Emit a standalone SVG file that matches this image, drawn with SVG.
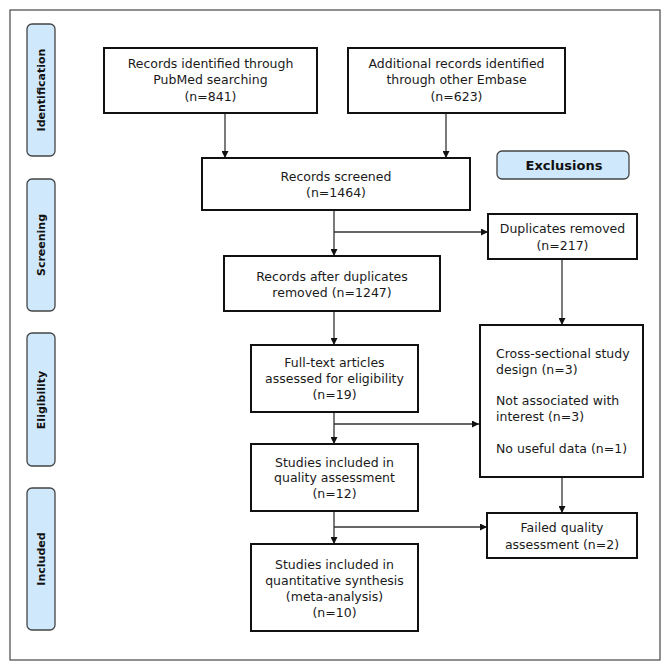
<svg xmlns="http://www.w3.org/2000/svg" width="671" height="671" viewBox="0 0 671 671">
<style>
.box{fill:#fff;stroke:#111;stroke-width:2}
.lbl{fill:#cfe8fb;stroke:#444;stroke-width:1.3}
.t{font-family:"DejaVu Sans",Verdana,sans-serif;font-size:12.5px;fill:#1a1a1a}
.s{font-size:11px}
.c{text-anchor:middle}
.b{font-weight:bold;fill:#111}
.con{stroke:#333;stroke-width:1.3;fill:none;marker-end:url(#ah)}
</style>
<defs>
<marker id="ah" viewBox="0 0 10 10" refX="10" refY="5" markerWidth="7" markerHeight="7" markerUnits="userSpaceOnUse" orient="auto">
<path d="M0,0L10,5L0,10z" fill="#111"/>
</marker>
</defs>
<rect width="671" height="671" fill="#fff"/>
<rect x="10" y="10" width="650" height="650" fill="none" stroke="#555" stroke-width="1.3"/>
<g id="stage-identification"><rect class="lbl" x="27" y="24" width="28" height="132" rx="5"/><text class="t s b c" transform="translate(45,90) rotate(-90)">Identification</text></g>
<g id="stage-screening"><rect class="lbl" x="27" y="179" width="28" height="132" rx="5"/><text class="t s b c" transform="translate(45,245) rotate(-90)">Screening</text></g>
<g id="stage-eligibility"><rect class="lbl" x="27" y="333" width="28" height="133" rx="5"/><text class="t s b c" transform="translate(45,400) rotate(-90)">Eligibility</text></g>
<g id="stage-included"><rect class="lbl" x="27" y="488" width="28" height="142" rx="5"/><text class="t s b c" transform="translate(45,559) rotate(-90)">Included</text></g>
<g id="exclusions-label"><rect class="lbl" x="497" y="151" width="132" height="28" rx="5"/><text class="t b c" x="564" y="170" style="font-size:13px">Exclusions</text></g>
<g id="connectors">
<line class="con" x1="225" y1="113" x2="225" y2="158"/>
<line class="con" x1="446" y1="113" x2="446" y2="158"/>
<line class="con" x1="334" y1="210" x2="334" y2="256"/>
<line class="con" x1="334" y1="232" x2="488" y2="232"/>
<line class="con" x1="562" y1="259" x2="562" y2="325"/>
<line class="con" x1="334" y1="311" x2="334" y2="345"/>
<line class="con" x1="334" y1="412" x2="334" y2="444"/>
<line class="con" x1="334" y1="424" x2="479" y2="424"/>
<line class="con" x1="334" y1="511" x2="334" y2="544"/>
<line class="con" x1="334" y1="527" x2="487" y2="527"/>
<line class="con" x1="562" y1="477" x2="562" y2="513"/>
</g>
<g id="pubmed"><rect class="box" x="104" y="48" width="213" height="65"/><text class="t c" x="210.5" y="68">Records identified through</text><text class="t c" x="210.5" y="84">PubMed searching</text><text class="t c" x="210.5" y="101">(n=841)</text></g>
<g id="embase"><rect class="box" x="348" y="48" width="217" height="65"/><text class="t c" x="456.5" y="68">Additional records identified</text><text class="t c" x="456.5" y="84">through other Embase</text><text class="t c" x="456.5" y="101">(n=623)</text></g>
<g id="screened"><rect class="box" x="202" y="158" width="268" height="52"/><text class="t c" x="336" y="181">Records screened</text><text class="t c" x="336" y="197">(n=1464)</text></g>
<g id="after-duplicates"><rect class="box" x="224" y="256" width="216" height="55"/><text class="t c" x="332" y="281">Records after duplicates</text><text class="t c" x="332" y="297">removed (n=1247)</text></g>
<g id="duplicates"><rect class="box" x="488" y="214" width="149" height="45"/><text class="t c" x="562.5" y="233">Duplicates removed</text><text class="t c" x="562.5" y="250">(n=217)</text></g>
<g id="fulltext"><rect class="box" x="251" y="345" width="167" height="67"/><text class="t c" x="334.5" y="367">Full-text articles</text><text class="t c" x="334.5" y="383">assessed for eligibility</text><text class="t c" x="334.5" y="399">(n=19)</text></g>
<g id="excluded-fulltext"><rect class="box" x="480" y="325" width="163" height="152"/><text class="t" x="496" y="358">Cross-sectional study</text><text class="t" x="496" y="374">design (n=3)</text><text class="t" x="496" y="405">Not associated with</text><text class="t" x="496" y="421">interest (n=3)</text><text class="t" x="496" y="453">No useful data (n=1)</text></g>
<g id="quality"><rect class="box" x="251" y="444" width="167" height="67"/><text class="t c" x="334.5" y="467">Studies included in</text><text class="t c" x="334.5" y="482">quality assessment</text><text class="t c" x="334.5" y="498">(n=12)</text></g>
<g id="failed"><rect class="box" x="487" y="513" width="150" height="45"/><text class="t c" x="562" y="532">Failed quality</text><text class="t c" x="562" y="549">assessment (n=2)</text></g>
<g id="synthesis"><rect class="box" x="251" y="544" width="167" height="87"/><text class="t c" x="334.5" y="569">Studies included in</text><text class="t c" x="334.5" y="585">quantitative synthesis</text><text class="t c" x="334.5" y="601">(meta-analysis)</text><text class="t c" x="334.5" y="617">(n=10)</text></g>
</svg>
